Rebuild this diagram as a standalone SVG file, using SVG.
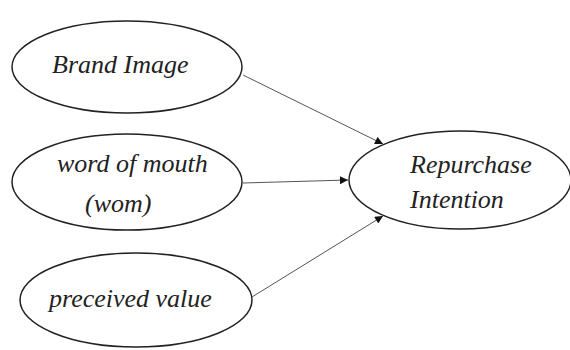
<svg xmlns="http://www.w3.org/2000/svg" width="570" height="350" viewBox="0 0 570 350">
<style>
.node ellipse{fill:#fff;stroke:#222;stroke-width:1.5}
.node text{font-family:"Liberation Serif","Times New Roman",serif;font-style:italic;font-size:26px;fill:#222}
.edges line{stroke:#555;stroke-width:1;marker-end:url(#ah)}
</style>
<defs>
<marker id="ah" viewBox="0 0 10 10" refX="10" refY="5" markerWidth="10" markerHeight="8" markerUnits="userSpaceOnUse" orient="auto">
<path d="M0,0 L10,5 L0,10 z" fill="#111"/>
</marker>
</defs>
<rect width="570" height="350" fill="#fff"/>
<g id="brand-image" class="node">
<ellipse cx="127" cy="67" rx="115" ry="46"/>
<text x="52" y="73">Brand Image</text>
</g>
<g id="word-of-mouth" class="node">
<ellipse cx="127" cy="182" rx="115" ry="48"/>
<text x="57" y="172">word of mouth</text>
<text x="85" y="212">(wom)</text>
</g>
<g id="perceived-value" class="node">
<ellipse cx="136" cy="300" rx="116" ry="47"/>
<text x="49" y="307">preceived value</text>
</g>
<g id="repurchase-intention" class="node">
<ellipse cx="460" cy="180" rx="111" ry="49"/>
<text x="410" y="173">Repurchase</text>
<text x="410" y="208">Intention</text>
</g>
<g id="connectors" class="edges">
<line x1="243" y1="75" x2="383" y2="144"/>
<line x1="243" y1="183" x2="348" y2="180"/>
<line x1="252" y1="297" x2="383" y2="216"/>
</g>
</svg>
